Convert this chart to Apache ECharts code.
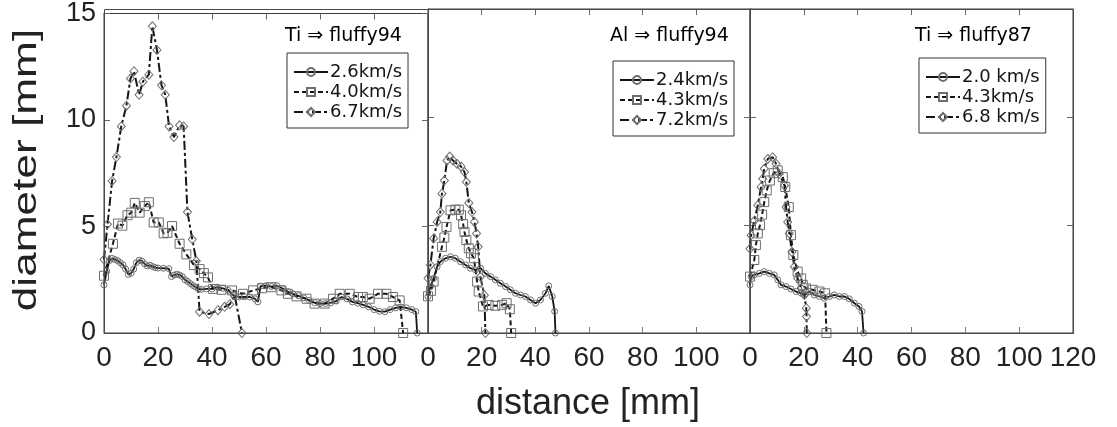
<!DOCTYPE html>
<html>
<head>
<meta charset="utf-8">
<script src="https://cdn.jsdelivr.net/npm/echarts@6/dist/echarts.min.js"></script>
<style>
  html, body { margin: 0; padding: 0; background: #fff; }
  #chart { width: 1117px; height: 427px; }
</style>
</head>
<body>
<div id="chart"></div>
<script>
// Crater diameter profiles along distance, three impact pairs.

const panelTitles = ['Ti \u21D2 fluffy94', 'Al \u21D2 fluffy94', 'Ti \u21D2 fluffy87'];
const xTicks = [0, 20, 40, 60, 80, 100, 120];
const yTicks = [0, 5, 10, 15];

// Ti => fluffy94
const tiF94_26_name = '2.6km/s';
const tiF94_26_d = [0, 1, 2, 3, 4, 5, 6, 7, 8, 9, 10, 11, 12, 13, 14, 15, 16, 17, 18, 19, 20, 22, 24, 25, 26, 27, 28, 29, 30, 31, 32, 33, 34, 35, 36, 38, 40, 42, 44, 46, 48, 50, 52, 54, 56, 57, 58, 60, 62, 64, 66, 68, 70, 72, 74, 76, 78, 80, 82, 84, 86, 88, 90, 92, 94, 96, 98, 100, 102, 104, 106, 108, 110, 112, 114, 115.5, 116];
const tiF94_26_v = [2.26, 2.9, 3.4, 3.5, 3.45, 3.4, 3.3, 3.2, 3.0, 2.75, 2.8, 3.0, 3.3, 3.42, 3.38, 3.25, 3.15, 3.18, 3.12, 3.07, 3.05, 3.04, 3.02, 2.65, 2.72, 2.76, 2.72, 2.65, 2.5, 2.42, 2.32, 2.23, 2.15, 2.07, 2.05, 2.07, 2.07, 2.15, 2.1, 2.0, 1.76, 1.69, 1.7, 1.69, 1.6, 1.46, 2.2, 2.22, 2.18, 2.22, 2.1, 1.95, 1.84, 1.75, 1.65, 1.53, 1.42, 1.38, 1.38, 1.42, 1.5, 1.69, 1.6, 1.46, 1.4, 1.32, 1.23, 1.1, 1.02, 1.0, 1.1, 1.18, 1.22, 1.18, 1.1, 1.0, 0];

const tiF94_40_name = '4.0km/s';
const tiF94_40_d = [0, 3.3, 5.2, 6.8, 8.7, 10.1, 11.4, 13.2, 15.1, 16.6, 18.4, 20.3, 22.1, 23.5, 25.2, 28.0, 30.5, 33.3, 35.4, 37.0, 38.5, 40.4, 43.5, 47.4, 51.5, 55.2, 58.5, 62, 65.7, 68.1, 71.3, 75, 78, 81.7, 84.8, 87.3, 91, 94.1, 95.9, 98.4, 101.5, 104.6, 107, 109.5, 110.8];
const tiF94_40_v = [2.69, 4.19, 5.14, 5.04, 5.53, 5.65, 6.11, 5.65, 5.96, 6.14, 5.19, 5.19, 4.68, 4.7, 5.02, 4.19, 3.69, 3.19, 3.0, 2.81, 2.61, 2.07, 2.03, 2.0, 1.84, 2.0, 2.1, 2.15, 2.0, 1.84, 1.72, 1.61, 1.38, 1.38, 1.61, 1.84, 1.84, 1.69, 1.69, 1.61, 1.84, 1.84, 1.69, 1.53, 0];

const tiF94_67_name = '6.7km/s';
const tiF94_67_d = [0, 1.3, 3.0, 4.6, 6.4, 8.3, 9.8, 11.1, 13.0, 14.4, 16.6, 17.9, 19.6, 21.3, 22.7, 24.1, 25.9, 28.0, 29.5, 30.9, 32.7, 34.2, 35.4, 38.9, 42.2, 44.7, 46.6, 48.4, 51.1];
const tiF94_67_v = [3.45, 5.1, 7.14, 8.26, 9.7, 10.67, 11.95, 12.29, 11.18, 11.8, 12.13, 14.4, 13.29, 11.63, 11.18, 9.7, 9.2, 9.75, 9.7, 5.68, 4.4, 3.38, 1.0, 0.89, 1.07, 1.23, 1.35, 1.76, 0];

// Al => fluffy94
const alF94_24_name = '2.4km/s';
const alF94_24_d = [0, 0.9, 2.1, 3.4, 4.6, 6.5, 8.4, 10.2, 12.1, 14, 15.8, 17.7, 19.6, 21.4, 23.3, 25.1, 27, 28.9, 30.7, 32.6, 34.5, 36.3, 38.2, 40.1, 41.9, 43.8, 45, 46.3, 47.2, 47.5];
const alF94_24_v = [1.69, 2.15, 2.53, 3.07, 3.3, 3.46, 3.53, 3.46, 3.3, 3.15, 3.0, 2.92, 3.0, 2.76, 2.61, 2.46, 2.3, 2.15, 2.0, 1.84, 1.76, 1.69, 1.53, 1.38, 1.53, 1.84, 2.18, 1.69, 1.0, 0];

const alF94_43_name = '4.3km/s';
const alF94_43_d = [0, 1.1, 2.1, 5.2, 6.1, 6.9, 8.4, 10.2, 11.5, 12.3, 13.1, 13.6, 14.3, 15.2, 16, 17.1, 18.3, 18.9, 20.5, 22.6, 25.1, 27.6, 29.3, 30.5, 31];
const alF94_43_v = [1.7, 1.95, 2.38, 3.99, 4.42, 4.91, 5.68, 5.71, 5.71, 5.45, 5.04, 4.68, 4.3, 3.92, 3.69, 3.46, 2.38, 1.92, 1.23, 1.3, 1.26, 1.3, 1.38, 1.1, 0];

const alF94_72_name = '7.2km/s';
const alF94_72_d = [0, 0.9, 2.1, 3.4, 4.6, 5.2, 6.1, 7.1, 8.1, 9.3, 10.8, 12.3, 13.6, 14.3, 15.2, 16.4, 17.3, 18.1, 18.7, 19.5, 21.0, 21.4];
const alF94_72_v = [2.53, 3.15, 4.38, 5.14, 5.6, 6.45, 7.06, 7.99, 8.17, 7.99, 7.83, 7.71, 7.45, 6.99, 6.02, 5.6, 5.14, 4.61, 3.99, 2.6, 1.75, 0];

// Ti => fluffy87
const tiF87_20_name = '2.0 km/s';
const tiF87_20_d = [0, 0.4, 1.6, 3.5, 5.3, 7.2, 9, 10.3, 11.5, 13.4, 15.2, 17.1, 19, 20.2, 22, 23.9, 25.8, 27.6, 29.5, 31.3, 33.2, 35.1, 36.9, 38.8, 40.5, 41.6, 42.2];
const tiF87_20_v = [2.23, 2.61, 2.69, 2.76, 2.84, 2.76, 2.69, 2.46, 2.23, 2.15, 2.04, 1.92, 1.84, 1.76, 1.92, 1.76, 1.69, 1.61, 1.69, 1.76, 1.69, 1.69, 1.58, 1.38, 1.23, 1.0, 0];

const tiF87_43_name = '4.3km/s';
const tiF87_43_d = [0, 1.6, 2.2, 2.9, 3.7, 4.5, 5.3, 6.2, 7.4, 8.8, 10.3, 12.2, 13.1, 14.4, 15.2, 16.1, 17.7, 19, 19.6, 20.8, 23.3, 25.8, 27.9, 28.4];
const tiF87_43_v = [2.61, 3.38, 4.07, 4.61, 4.99, 5.48, 6.06, 6.6, 7.06, 7.4, 7.53, 7.22, 6.76, 5.83, 4.53, 3.61, 2.84, 2.53, 2.23, 2.07, 2.0, 1.92, 1.84, 0];

const tiF87_68_name = '6.8 km/s';
const tiF87_68_d = [0, 0.4, 1.6, 2.9, 4.1, 4.7, 5.3, 6.6, 8.4, 9.7, 10.9, 12.8, 13.4, 14, 14.6, 15.6, 16.5, 17.7, 19, 20.2, 20.9, 21.0, 21.1];
const tiF87_68_v = [3.9, 4.53, 5.2, 5.91, 6.76, 7.14, 7.6, 8.06, 8.14, 7.83, 7.37, 6.83, 5.83, 5.14, 4.61, 3.76, 3.07, 2.53, 2.07, 1.76, 1.15, 0.76, 0];

const FONT_AXIS = '"Liberation Sans", Arial, sans-serif';
const FONT_SMALL = '"DejaVu Sans", sans-serif';
const INK = '#151515';

const marker = { color: 'rgba(255,255,255,0)', borderColor: '#6e6e6e', borderWidth: 1 };
const styles = {
  circle:  { symbol: 'circle',  symbolSize: 6,      lineStyle: { color: INK, width: 1.8, type: 'solid' } },
  square:  { symbol: 'rect',    symbolSize: 9,      lineStyle: { color: INK, width: 2, type: [5, 3] } },
  diamond: { symbol: 'diamond', symbolSize: [8, 9], lineStyle: { color: INK, width: 2, type: [9, 3, 3, 3] } }
};

function zip(d, v) { return d.map((x, i) => [x, v[i]]); }

function makeSeries(panel, name, d, v, kind) {
  const s = styles[kind];
  return {
    type: 'line', name: name,
    xAxisIndex: panel * 2, yAxisIndex: panel * 2,
    data: zip(d, v),
    symbol: s.symbol, symbolSize: s.symbolSize,
    showAllSymbol: true, clip: false,
    lineStyle: s.lineStyle, itemStyle: marker,
    emphasis: { disabled: true },
    animation: false
  };
}

// panel frames: left, width
const panelBoxes = [[104, 324], [428, 322], [750, 323]];
const PLOT_TOP = 9, PLOT_H = 324;
const grids = panelBoxes.map(b => ({
  left: b[0], top: PLOT_TOP, width: b[1], height: PLOT_H,
  show: true, borderColor: '#3a3a3a', borderWidth: 1, backgroundColor: 'transparent'
}));
const edgeColors = ['#6a6a6a', '#444', '#222'];

const xAxes = [], yAxes = [];
grids.forEach((g, i) => {
  const last = i === grids.length - 1;
  const xRange = { min: xTicks[0], max: xTicks[xTicks.length - 1], interval: xTicks[1] - xTicks[0] };
  const yRange = { min: yTicks[0], max: yTicks[yTicks.length - 1], interval: yTicks[1] - yTicks[0] };
  xAxes.push(Object.assign({
    type: 'value', gridIndex: i, position: 'bottom', z: 3,
    axisLine: { show: true, onZero: false, lineStyle: { color: '#7a7a7a', width: 1 } },
    axisTick: { show: true, inside: true, length: 6, lineStyle: { color: '#7a7a7a' } },
    axisLabel: {
      margin: 11, fontSize: 28, fontFamily: FONT_AXIS, color: '#222',
      formatter: v => (!last && v === xTicks[xTicks.length - 1]) ? '' : String(v)
    },
    splitLine: { show: false }
  }, xRange));
  xAxes.push(Object.assign({
    type: 'value', gridIndex: i, position: 'top', z: 3,
    axisLine: { show: true, onZero: false, lineStyle: { color: '#3a3a3a', width: 1 } },
    axisTick: { show: true, inside: true, length: 6, lineStyle: { color: '#666' } },
    axisLabel: { show: false },
    splitLine: { show: false }
  }, xRange));
  yAxes.push(Object.assign({
    type: 'value', gridIndex: i, position: 'left', z: 3,
    axisLine: { show: true, onZero: false, lineStyle: { color: edgeColors[i], width: 1 } },
    axisTick: { show: true, inside: true, length: 6, lineStyle: { color: '#666' } },
    axisLabel: {
      show: i === 0, margin: 8, fontSize: 27, fontFamily: FONT_AXIS, color: '#222',
      padding: [12, 0, 0, 0]
    },
    splitLine: { show: false }
  }, yRange));
  yAxes.push(Object.assign({
    type: 'value', gridIndex: i, position: 'right', z: 3,
    axisLine: { show: true, onZero: false, lineStyle: { color: '#444', width: 1 } },
    axisTick: { show: true, inside: true, length: 6, lineStyle: { color: '#666' } },
    axisLabel: { show: false },
    splitLine: { show: false }
  }, yRange));
});

const series = [
  makeSeries(0, tiF94_26_name, tiF94_26_d, tiF94_26_v, 'circle'),
  makeSeries(0, tiF94_67_name, tiF94_67_d, tiF94_67_v, 'diamond'),
  makeSeries(0, tiF94_40_name, tiF94_40_d, tiF94_40_v, 'square'),
  makeSeries(1, alF94_24_name, alF94_24_d, alF94_24_v, 'circle'),
  makeSeries(1, alF94_72_name, alF94_72_d, alF94_72_v, 'diamond'),
  makeSeries(1, alF94_43_name, alF94_43_d, alF94_43_v, 'square'),
  makeSeries(2, tiF87_20_name, tiF87_20_d, tiF87_20_v, 'circle'),
  makeSeries(2, tiF87_68_name, tiF87_68_d, tiF87_68_v, 'diamond'),
  makeSeries(2, tiF87_43_name, tiF87_43_d, tiF87_43_v, 'square')
];

function legendBox(left, top, names) {
  return {
    left: left, top: top, orient: 'vertical',
    data: names,
    itemWidth: 34, itemHeight: 10, itemGap: 2,
    padding: [10, 6, 7, 6],
    borderColor: '#333', borderWidth: 1, backgroundColor: '#fff',
    textStyle: { fontSize: 18, fontFamily: FONT_SMALL, color: INK, padding: [0, 0, 0, -3] },
    selectedMode: false
  };
}

const titlePos = [[285, 27], [610, 27], [915, 27]];

// frame outlines drawn on top of every panel
const frameRects = panelBoxes.map(b => ({
  type: 'rect', silent: true, z: 50,
  shape: { x: b[0] + 0.5, y: PLOT_TOP + 0.5, width: b[1], height: PLOT_H },
  style: { fill: 'none', stroke: '#4a4a4a', lineWidth: 1 }
}));

const option = {
  animation: false,
  backgroundColor: '#fff',
  grid: grids,
  xAxis: xAxes,
  yAxis: yAxes,
  series: series,
  title: panelTitles.map((t, i) => ({
    text: t, left: titlePos[i][0], top: titlePos[i][1], padding: 0,
    textStyle: { fontSize: 19, fontFamily: FONT_SMALL, fontWeight: 500, color: '#000' }
  })),
  legend: [
    legendBox(287, 53, [tiF94_26_name, tiF94_40_name, tiF94_67_name]),
    legendBox(613, 61, [alF94_24_name, alF94_43_name, alF94_72_name]),
    legendBox(919, 58, [tiF87_20_name, tiF87_43_name, tiF87_68_name])
  ],
  graphic: frameRects.concat([
    {
      type: 'text', x: 27, y: 170, rotation: Math.PI / 2, scaleX: 1.3, silent: true,
      style: {
        text: 'diameter [mm]', fontSize: 34, fontFamily: FONT_AXIS, fill: '#222',
        align: 'center', verticalAlign: 'middle'
      }
    },
    {
      type: 'text', x: 588, y: 404, silent: true,
      style: {
        text: 'distance [mm]', fontSize: 36, fontFamily: FONT_AXIS, fill: '#222',
        align: 'center', verticalAlign: 'middle'
      }
    }
  ])
};

const chart = echarts.init(document.getElementById('chart'), null, { renderer: 'canvas' });
chart.setOption(option);
</script>
</body>
</html>
